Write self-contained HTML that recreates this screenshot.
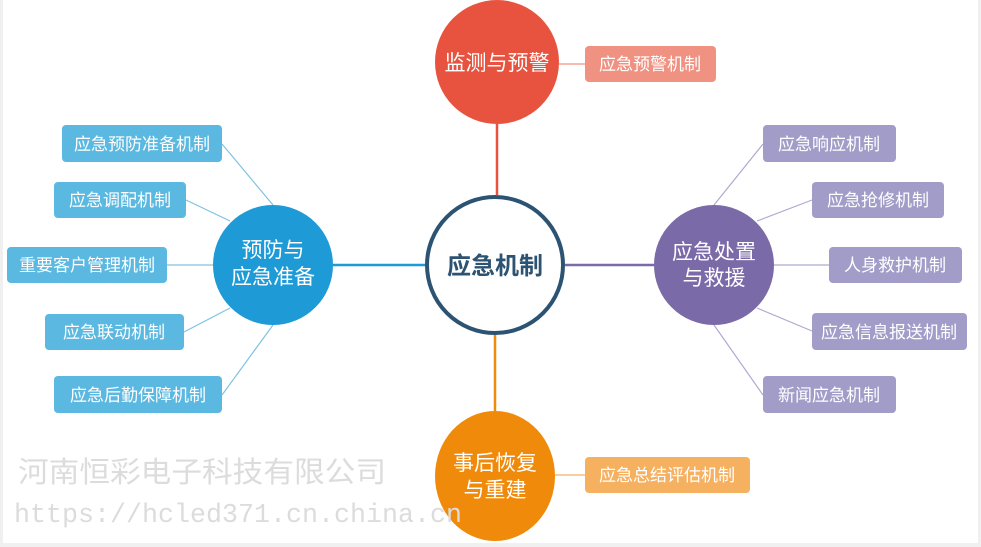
<!DOCTYPE html>
<html><head><meta charset="utf-8"><style>
html,body{margin:0;padding:0;background:#f0f0f0}
svg{display:block}
text{font-family:"Liberation Sans","Noto Sans CJK SC",sans-serif}
text.mono{font-family:"Liberation Mono","DejaVu Sans Mono",monospace}
</style></head><body>
<svg width="981" height="547" viewBox="0 0 981 547" xmlns="http://www.w3.org/2000/svg">
<rect x="3" y="0" width="975" height="543" fill="#fff"/>
<g stroke-width="1.2" fill="none">
<g stroke="#7fc3e3">
<line x1="222" y1="144" x2="273" y2="205"/>
<line x1="186" y1="200" x2="230" y2="221"/>
<line x1="167" y1="265" x2="213" y2="265"/>
<line x1="184" y1="332" x2="230" y2="308"/>
<line x1="222" y1="395" x2="273" y2="325"/>
</g>
<g stroke="#b0a9d0">
<line x1="763" y1="144" x2="714" y2="205"/>
<line x1="812" y1="200" x2="757" y2="221"/>
<line x1="829" y1="265" x2="774" y2="265"/>
<line x1="812" y1="331" x2="757" y2="308"/>
<line x1="763" y1="395" x2="714" y2="325"/>
</g>
<line x1="559" y1="64" x2="585" y2="64" stroke="#f09282"/>
<line x1="555" y1="475" x2="585" y2="475" stroke="#f5b060"/>
</g>
<line x1="497" y1="124" x2="497" y2="195" stroke="#e8533f" stroke-width="2.5"/>
<line x1="333" y1="265" x2="425" y2="265" stroke="#1e9ad6" stroke-width="2.5"/>
<line x1="565" y1="265" x2="654" y2="265" stroke="#7a6aa8" stroke-width="2.5"/>
<line x1="495" y1="335" x2="495" y2="412" stroke="#f08a0a" stroke-width="2.5"/>
<circle cx="497" cy="62" r="62" fill="#e8533f"/>
<circle cx="495" cy="265" r="68" fill="#fff" stroke="#2d5373" stroke-width="4"/>
<circle cx="273" cy="265" r="60" fill="#1e9ad6"/>
<circle cx="714" cy="265" r="60" fill="#7a6aa8"/>
<ellipse cx="495" cy="476" rx="60" ry="65" fill="#f08a0a"/>
<g fill="#fff" font-size="21" text-anchor="middle">
<text x="497" y="70">监测与预警</text>
<text x="273" y="257">预防与</text>
<text x="273" y="284">应急准备</text>
<text x="714" y="259">应急处置</text>
<text x="714" y="285">与救援</text>
<text x="495" y="470">事后恢复</text>
<text x="495" y="497">与重建</text>
</g>
<text x="495" y="274" font-size="24" font-weight="bold" fill="#2d5373" text-anchor="middle">应急机制</text>
<g fill="#5bb8e0">
<rect x="62" y="125" width="160" height="37" rx="4"/>
<rect x="54" y="182" width="132" height="36" rx="4"/>
<rect x="7" y="247" width="160" height="36" rx="4"/>
<rect x="45" y="314" width="139" height="36" rx="4"/>
<rect x="54" y="376" width="168" height="37" rx="4"/>
</g>
<g fill="#a29cc8">
<rect x="763" y="125" width="133" height="37" rx="4"/>
<rect x="812" y="182" width="132" height="36" rx="4"/>
<rect x="829" y="247" width="133" height="36" rx="4"/>
<rect x="812" y="313" width="155" height="37" rx="4"/>
<rect x="763" y="376" width="133" height="37" rx="4"/>
</g>
<rect x="585" y="46" width="131" height="36" rx="4" fill="#f09282"/>
<rect x="585" y="457" width="165" height="36" rx="4" fill="#f5b060"/>
<g fill="#fff" font-size="17" text-anchor="middle">
<text x="142" y="150">应急预防准备机制</text>
<text x="120" y="206">应急调配机制</text>
<text x="87" y="271">重要客户管理机制</text>
<text x="114" y="338">应急联动机制</text>
<text x="138" y="401">应急后勤保障机制</text>
<text x="829" y="150">应急响应机制</text>
<text x="878" y="206">应急抢修机制</text>
<text x="895" y="271">人身救护机制</text>
<text x="889" y="338">应急信息报送机制</text>
<text x="829" y="401">新闻应急机制</text>
<text x="650" y="70">应急预警机制</text>
<text x="667" y="481">应急总结评估机制</text>
</g>
<text x="18" y="482" font-size="29" fill="#dcdcdc" textLength="368" lengthAdjust="spacingAndGlyphs">河南恒彩电子科技有限公司</text>
<text class="mono" x="14" y="522" font-size="27" fill="#dcdcdc" textLength="448" lengthAdjust="spacingAndGlyphs">https://hcled371.cn.china.cn</text>
</svg>
</body></html>
